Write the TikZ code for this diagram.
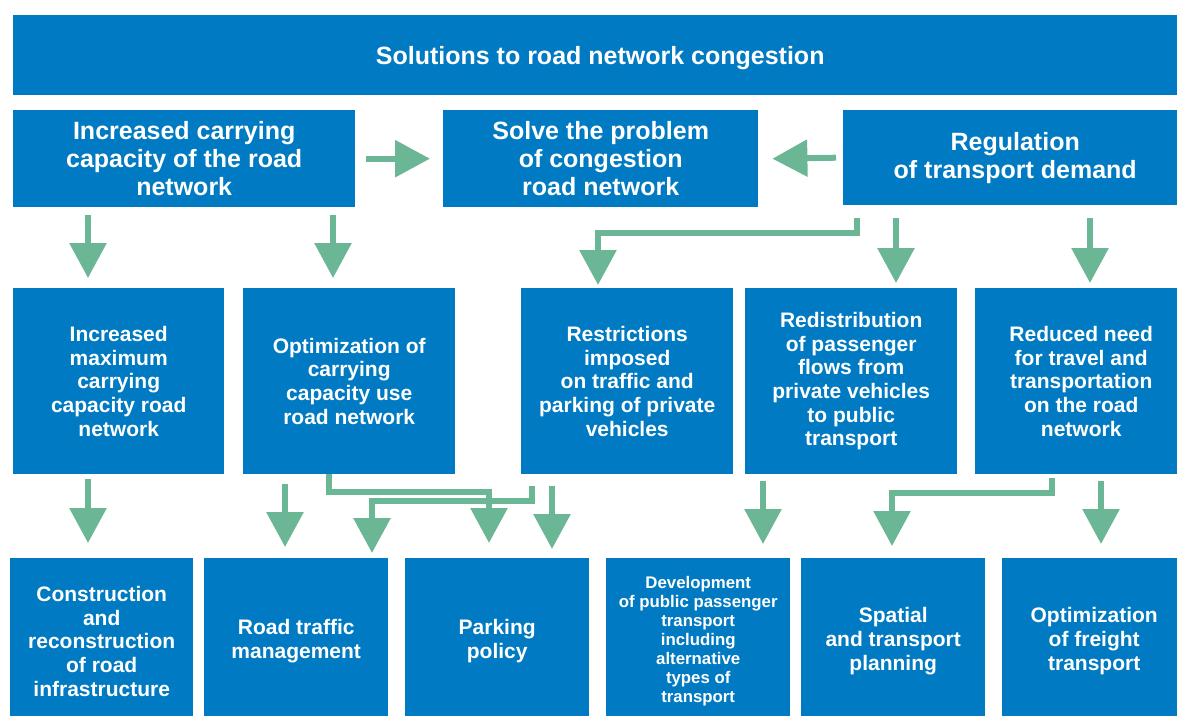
\documentclass[tikz,border=0pt]{standalone}
\usepackage{fontspec}
\setmainfont{Liberation Sans}
\usetikzlibrary{arrows.meta,calc}
\definecolor{boxblue}{RGB}{0,122,194}
\definecolor{arrowgreen}{RGB}{107,182,148}

\begin{document}
\begin{tikzpicture}[x=1pt,y=-1pt,
  box/.style={fill=boxblue, text=white, inner sep=0pt, anchor=north west,
    align=center, font=\bfseries},
  titlefont/.style={font=\fontsize{25}{28}\selectfont\bfseries},
  headfont/.style={font=\fontsize{25}{28}\selectfont\bfseries},
  midfont/.style={font=\fontsize{21}{23.7}\selectfont\bfseries},
  lowfont/.style={font=\fontsize{21}{23.7}\selectfont\bfseries},
  smallfont/.style={font=\fontsize{16.8}{19}\selectfont\bfseries},
  arr/.style={draw=arrowgreen, line width=6pt,
    -{Triangle[length=35pt,width=36pt]}},
]
\useasboundingbox (0,0) rectangle (1177,715);

% title bar
\node[box, titlefont, text depth=0pt, minimum width=1174pt, minimum height=80pt] (T) at (13,15)
  {Solutions to road network congestion};

% second row
\node[box, headfont, minimum width=342pt, minimum height=97pt] (A) at (13,110)
  {Increased carrying\\capacity of the road\\network};
\node[box, headfont, minimum width=315pt, minimum height=97pt] (B) at (443,110)
  {Solve the problem\\of congestion\\road network};
\node[box, headfont, minimum width=344pt, minimum height=95pt] (C) at (843,110)
  {Regulation\\of transport demand};

% third row
\node[box, midfont, minimum width=211pt, minimum height=186pt] (D) at (13,288)
  {Increased\\maximum\\carrying\\capacity road\\network};
\node[box, midfont, minimum width=212pt, minimum height=186pt] (E) at (243,288)
  {Optimization of\\carrying\\capacity use\\road network};
\node[box, midfont, minimum width=212pt, minimum height=186pt] (F) at (521,288)
  {Restrictions\\imposed\\on traffic and\\parking of private\\vehicles};
\node[box, midfont, minimum width=212pt, minimum height=186pt] (G) at (745,288)
  {Redistribution\\of passenger\\flows from\\private vehicles\\to public\\transport};
\node[box, midfont, minimum width=212pt, minimum height=186pt] (H) at (975,288)
  {Reduced need\\for travel and\\transportation\\on the road\\network};

% fourth row
\node[box, lowfont, minimum width=183pt, minimum height=166pt] (I) at (10,558)
  {Construction\\and\\reconstruction\\of road\\infrastructure};
\node[box, lowfont, minimum width=184pt, minimum height=166pt] (J) at (204,558)
  {Road traffic\\management};
\node[box, lowfont, minimum width=184pt, minimum height=166pt] (K) at (405,558)
  {Parking\\policy};
\node[box, smallfont, minimum width=184pt, minimum height=166pt] (L) at (606,558)
  {Development\\of public passenger\\transport\\including\\alternative\\types of\\transport};
\node[box, lowfont, minimum width=184pt, minimum height=166pt] (M) at (801,558)
  {Spatial\\and transport\\planning};
\node[box, lowfont, minimum width=184pt, minimum height=166pt] (N) at (1002,558)
  {Optimization\\of freight\\transport};

% horizontal arrows into the central goal
\draw[arr] ([xshift=11pt]A.east) -- ([xshift=-13pt]B.west);
\draw[arr] ([xshift=-7pt]C.west) -- ([xshift=14pt]B.east);

% second row to third row
\draw[arr] ($(A.south -| 88,0)+(0,8)$) -- ($(D.north -| 88,0)+(0,-10)$);
\draw[arr] ($(A.south -| 333,0)+(0,8)$) -- ($(E.north -| 333,0)+(0,-10)$);
\draw[arr] ($(C.south -| 857,0)+(0,13)$) -- ++(0,15) -| ($(F.north -| 598,0)+(0,-3)$);
\draw[arr] ($(C.south -| 896,0)+(0,13)$) -- ($(G.north -| 896,0)+(0,-5)$);
\draw[arr] ($(C.south -| 1090,0)+(0,13)$) -- ($(H.north -| 1090,0)+(0,-5)$);

% third row to fourth row
\draw[arr] ($(D.south -| 88,0)+(0,5)$) -- ($(I.north -| 88,0)+(0,-15)$);
\draw[arr] ($(E.south -| 285,0)+(0,10)$) -- ($(J.north -| 285,0)+(0,-11)$);
\draw[arr] (E.south -| 329,0) -- ++(0,18) -| ($(K.north -| 489,0)+(0,-15)$);
\draw[arr] ($(F.south -| 532,0)+(0,12)$) -- ++(0,15) -| ($(J.north -| 372,0)+(0,-5)$);
\draw[arr] ($(F.south -| 552,0)+(0,12)$) -- ($(K.north -| 552,0)+(0,-9)$);
\draw[arr] ($(G.south -| 763,0)+(0,7)$) -- ($(L.north -| 763,0)+(0,-14)$);
\draw[arr] ($(H.south -| 1052,0)+(0,4)$) -- ++(0,15) -| ($(M.north -| 892,0)+(0,-12)$);
\draw[arr] ($(H.south -| 1101,0)+(0,7)$) -- ($(N.north -| 1101,0)+(0,-14)$);
\end{tikzpicture}
\end{document}
